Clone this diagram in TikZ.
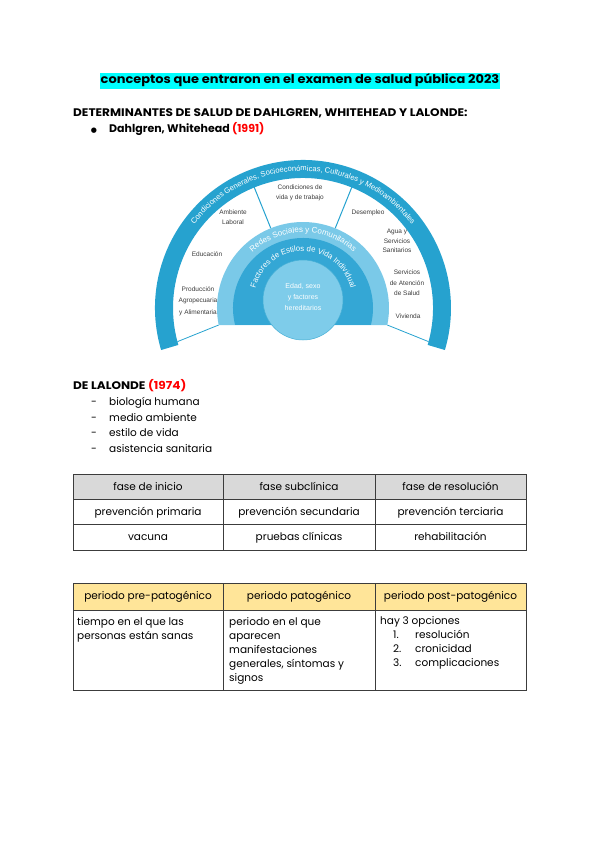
\documentclass[tikz,border=0pt]{standalone}
\usepackage{fontspec}
\setmainfont{Poppins}
\newfontfamily\diagfont{Liberation Sans}
\newfontfamily\symfont{DejaVu Sans}
\usetikzlibrary{decorations.text}
\definecolor{hlcyan}{RGB}{0,255,255}
\definecolor{yearred}{RGB}{255,0,0}
\definecolor{ringout}{RGB}{38,162,207}
\definecolor{ringlight}{RGB}{122,201,232}
\definecolor{ringmid}{RGB}{52,167,213}
\definecolor{core}{RGB}{126,204,234}
\definecolor{labelgray}{RGB}{60,60,60}
\definecolor{headgray}{RGB}{217,217,217}
\definecolor{headyellow}{RGB}{255,229,153}
\definecolor{rulegray}{RGB}{60,60,60}
\newcommand{\wide}[1]{\scalebox{1.1}[1]{#1}}
\begin{document}
\begin{tikzpicture}[x=1pt,y=-1pt,
  body/.style={inner sep=0pt, text height=7.5pt, text depth=2pt, font=\fontsize{10.5}{14}\selectfont},
  bold/.style={body, font=\bfseries\fontsize{11}{14}\selectfont},
  cell/.style={inner sep=0pt, align=left, anchor=north west, font=\fontsize{10.5}{14}\selectfont},
  lbl/.style={inner sep=0pt, align=center, text=labelgray, font=\diagfont\fontsize{6.5}{10}\selectfont},
  rule/.style={draw=rulegray, line width=0.8pt},
  ringtext/.style={decorate, decoration={text along path, text align=center, text color=white, text={#1}}}]
\useasboundingbox (0,0) rectangle (600,848);
% title
\node[fill=hlcyan, inner xsep=1pt, inner ysep=2.5pt, text height=8.5pt, text depth=2.5pt,
  font=\bfseries\fontsize{12}{14}\selectfont] (title) at (300,81)
  {\scalebox{1.08}[1]{conceptos que entraron en el examen de salud pública 2023}};
\node[bold, anchor=west] (head) at (73,114) {\wide{DETERMINANTES DE SALUD DE DAHLGREN, WHITEHEAD Y LALONDE:}};
\node[body, font=\symfont\fontsize{7}{10}\selectfont] (bul) at (94,130) {●};
\node[bold, anchor=west] (dw) at (109,130) {Dahlgren, Whitehead \textcolor{yearred}{(1991)}};
% rainbow
\coordinate (C) at (303,308);
\coordinate (K) at (303,300);
\fill[ringout] ([shift={(C)}]-196.5:148) arc[start angle=-196.5, end angle=16.5, radius=148]
  -- ([shift={(C)}]16.5:130) arc[start angle=16.5, end angle=-196.5, radius=130] -- cycle;
\draw[ringout, line width=0.8pt] ([shift={(C)}]-195:130) -- ([shift={(C)}]-191.4:86);
\draw[ringout, line width=0.8pt] ([shift={(C)}]15:130) -- ([shift={(C)}]11.4:86);
\draw[ringout, line width=1pt] ([shift={(C)}]-112:86) -- ([shift={(C)}]-112:131);
\draw[ringout, line width=1pt] ([shift={(C)}]-68:86) -- ([shift={(C)}]-68:131);
\fill[ringlight] ([shift={(C)}]-191.4:86) arc[start angle=-191.4, end angle=11.4, radius=86] -- cycle;
\fill[ringmid] ([shift={(C)}]-194:70) arc[start angle=-194, end angle=14, radius=70] -- cycle;
\filldraw[fill=core, draw=ringout!85, line width=0.5pt] (K) circle[radius=40];
% ring texts
\path[ringtext={|\diagfont\fontsize{7.6}{8}\selectfont|Condiciones Generales, Socioeconómicas, Culturales y Medioambientales}]
  ([shift={(C)}]-180:137) arc[start angle=-180, end angle=0, radius=137];
\path[ringtext={|\diagfont\fontsize{8}{9}\selectfont|Redes Sociales y Comunitarias}]
  ([shift={(C)}]-180:75.5) arc[start angle=-180, end angle=0, radius=75.5];
\path[ringtext={|\diagfont\fontsize{7.8}{9}\selectfont|Factores de Estilos de Vida Individual}]
  ([shift={(K)}]-195:49) arc[start angle=-195, end angle=15, radius=49];
\node[lbl, text=white, font=\diagfont\fontsize{7}{11}\selectfont] (edad) at (303,297) {Edad, sexo\\y factores\\hereditarios};
% labels in the white band
\node[lbl, font=\diagfont\fontsize{6.5}{11.5}\selectfont] (prod) at (198,301) {Producción\\Agropecuaria\\y Alimentaria};
\node[lbl] (edu) at (207,254) {Educación};
\node[lbl] (amb) at (233,217) {Ambiente\\Laboral};
\node[lbl] (cond) at (300,193) {Condiciones de\\vida y de trabajo};
\node[lbl] (des) at (368,213) {Desempleo};
\node[lbl, font=\diagfont\fontsize{6.5}{9.5}\selectfont] (agua) at (397,241) {Agua y\\Servicios\\Sanitarios};
\node[lbl, font=\diagfont\fontsize{6.5}{10.5}\selectfont] (serv) at (407,283) {Servicios\\de Atención\\de Salud};
\node[lbl] (viv) at (408,316) {Vivienda};
% lalonde
\node[bold, anchor=west] (lal) at (73,387) {\wide{DE LALONDE \textcolor{yearred}{(1974)}}};
\foreach \entry [count=\i] in {biología humana, medio ambiente, estilo de vida, asistencia sanitaria} {
  \node[body] (dash\i) at (94,{403+15.6*(\i-1)}) {-};
  \node[body, anchor=west] (lal\i) at (109,{403+15.6*(\i-1)}) {\entry};
}
% first table
\fill[headgray] (73,474) rectangle (526,499);
\draw[rule] (73,474) rectangle (526,550);
\draw[rule] (73,499) -- (526,499);
\draw[rule] (73,524) -- (526,524);
\draw[rule] (223,474) -- (223,550);
\draw[rule] (375,474) -- (375,550);
\foreach \ca/\cb/\cc [count=\r] in {fase de inicio/fase subclínica/fase de resolución,
    prevención primaria/prevención secundaria/prevención terciaria,
    vacuna/pruebas clínicas/rehabilitación} {
  \node[body] (fa\r) at (148,{487.5+25*(\r-1)}) {\ca};
  \node[body] (fb\r) at (299,{487.5+25*(\r-1)}) {\cb};
  \node[body] (fc\r) at (450.5,{487.5+25*(\r-1)}) {\cc};
}
% second table
\fill[headyellow] (73,583) rectangle (526,610);
\draw[rule] (73,583) rectangle (526,690);
\draw[rule] (73,610) -- (526,610);
\draw[rule] (223,583) -- (223,690);
\draw[rule] (375,583) -- (375,690);
\node[body] (pa) at (148,597) {periodo pre-patogénico};
\node[body] (pb) at (299,597) {periodo patogénico};
\node[body] (pc) at (450.5,597) {periodo post-patogénico};
\node[cell] (sa) at (77,617.6) {tiempo en el que las\\personas están sanas};
\node[cell] (sb) at (229,617.6) {periodo en el que\\aparecen\\manifestaciones\\generales, síntomas y\\signos};
\node[body, anchor=west] (sc) at (380,622) {hay 3 opciones};
\foreach \opt [count=\i] in {resolución, cronicidad, complicaciones} {
  \node[body, anchor=west] (num\i) at (393,{622+14*\i}) {\i.};
  \node[body, anchor=west] (opt\i) at (415,{622+14*\i}) {\opt};
}
\end{tikzpicture}
\end{document}
